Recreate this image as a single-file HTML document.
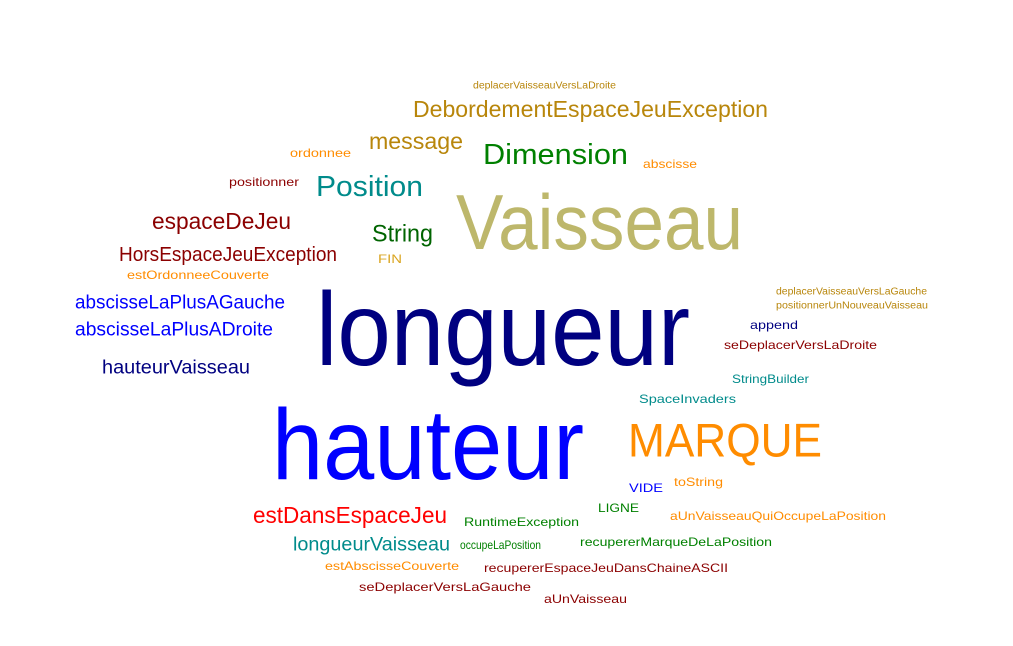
<!DOCTYPE html>
<html><head><meta charset="utf-8">
<style>
html,body{margin:0;padding:0;background:#fff;width:1013px;height:646px;overflow:hidden}
svg text{font-family:"Liberation Sans",sans-serif}
</style></head>
<body>
<svg id="cloud" width="1013" height="646" viewBox="0 0 1013 646" xmlns="http://www.w3.org/2000/svg"></svg>
<script>
const words=["deplacerVaisseauVersLaDroite","DebordementEspaceJeuException","ordonnee","message","Dimension","abscisse","positionner","Position","Vaisseau","espaceDeJeu","String","HorsEspaceJeuException","FIN","estOrdonneeCouverte","deplacerVaisseauVersLaGauche","positionnerUnNouveauVaisseau","abscisseLaPlusAGauche","longueur","abscisseLaPlusADroite","append","seDeplacerVersLaDroite","hauteurVaisseau","StringBuilder","SpaceInvaders","hauteur","MARQUE","toString","VIDE","LIGNE","estDansEspaceJeu","RuntimeException","aUnVaisseauQuiOccupeLaPosition","longueurVaisseau","occupeLaPosition","recupererMarqueDeLaPosition","estAbscisseCouverte","recupererEspaceJeuDansChaineASCII","seDeplacerVersLaGauche","aUnVaisseau"];
const weights=[10,23,12,23,29,12,12,29,78,23,24,20,12,12,10,10,19,104,19,12,12,19,12,12,100,47,12,12,12,23,12,12,19,12,12,12,12,12,12];
const colors=["#b8860b","#b8860b","#ff8c00","#b8860b","#008000","#ff8c00","#8b0000","#008b8b","#bdb76b","#8b0000","#006400","#8b0000","#daa520","#ff8c00","#b8860b","#b8860b","#0000ff","#000080","#0000ff","#000080","#8b0000","#000080","#008b8b","#008b8b","#0000ff","#ff8c00","#ff8c00","#0000ff","#008000","#ff0000","#008000","#ff8c00","#008b8b","#008000","#008000","#ff8c00","#8b0000","#8b0000","#8b0000"];
// layout (left x, vertical center, rendered width)
const layoutX=[473,413,290,369,483,643,229,316,456,152,372,119,378,127,776,776,75,316,75,750,724,102,732,639,272,628,674,629,598,253,464,670,293,460,580,325,484,359,544];
const layoutY=[86,109,153,141,155,164,182,187,222,221,234,255,259,275,292,306,303,330,330,325,345,368,379,399,445,440,482,488,508,515,522,516,545,545,542,566,568,587,599];
const layoutW=[143,355,61,94,145,54,70,107,287,139,61,218,24,142,151,152,210,374,198,48,153,148,77,97,312,194,49,34,41,194,115,216,157,81,192,134,244,172,83];
const svg=document.getElementById('cloud');
const NS="http://www.w3.org/2000/svg";
for(let i=0;i<words.length;i++){
  const t=document.createElementNS(NS,'text');
  
  
  t.setAttribute('x',layoutX[i]);
  t.setAttribute('y',layoutY[i]);
  t.setAttribute('dominant-baseline','central');
  t.setAttribute('font-size',weights[i]);
  t.setAttribute('fill',colors[i]);
  if(layoutW[i]){t.setAttribute('textLength',layoutW[i]);t.setAttribute('lengthAdjust','spacingAndGlyphs');}
  t.textContent=words[i];
  svg.appendChild(t);
}
</script>
</body></html>
